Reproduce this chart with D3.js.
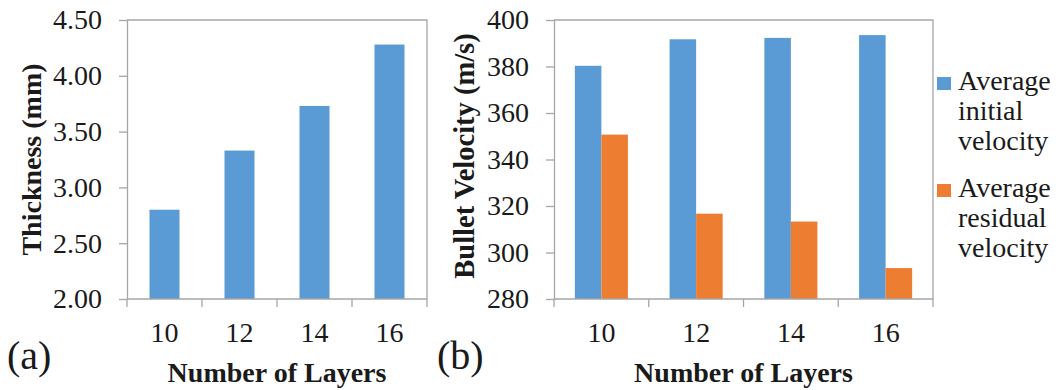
<!DOCTYPE html>
<html>
<head>
<meta charset="utf-8">
<script src="https://cdn.jsdelivr.net/npm/d3@7"></script>
<style>
  html, body { margin: 0; padding: 0; background: #fff; }
  svg { display: block; }
</style>
</head>
<body>
<svg id="chart" width="1059" height="390"></svg>
<script>
// Layer counts shared by both panels
const layers = ["10", "12", "14", "16"];

// Panel (a): laminate thickness in mm
const thickness = [2.80, 3.33, 3.73, 4.28];
const thicknessTicks = [2.00, 2.50, 3.00, 3.50, 4.00, 4.50];

// Panel (b): bullet velocities in m/s
const seriesNames = ["Average initial velocity", "Average residual velocity"];
const initialVelocity = [380.3, 391.7, 392.3, 393.5];
const residualVelocity = [350.7, 316.7, 313.3, 293.3];
const velocityTicks = [280, 300, 320, 340, 360, 380, 400];

// Legend lines (each entry wraps over three lines)
const legendLines = [["Average", "initial", "velocity"], ["Average", "residual", "velocity"]];

const colors = ["#5b9bd5", "#ed7d31"];
const axisColor = "#a6a6a6";
const textColor = "#1a1a1a";
const FONT = '"Liberation Serif", "Times New Roman", serif';

const svg = d3.select("#chart");

function label(sel, size, bold) {
  return sel.style("font-family", FONT)
    .style("font-size", size + "px")
    .style("font-weight", bold ? "bold" : "normal")
    .style("fill", textColor);
}

function styleAxis(g) {
  g.attr("font-family", null).attr("font-size", null);
  g.select(".domain").attr("stroke", axisColor).attr("stroke-width", 1.3);
  g.selectAll(".tick line").attr("stroke", axisColor).attr("stroke-width", 1.3);
  label(g.selectAll(".tick text"), 28, false);
}

function drawFrame(x, y, left, right, top, bottom, yTicks, yFmt, yTitle, panelLabel) {
  // plot outline (top and right edges)
  svg.append("path")
    .attr("d", `M${left},${top}H${right}V${bottom}`)
    .attr("fill", "none").attr("stroke", axisColor).attr("stroke-width", 1.3);

  // y axis
  const gy = svg.append("g").attr("transform", `translate(${left},0)`)
    .call(d3.axisLeft(y).tickValues(yTicks).tickFormat(yFmt).tickSize(8).tickSizeOuter(0).tickPadding(17));
  styleAxis(gy);

  // x axis: baseline with tick marks at category boundaries
  const step = x.step();
  const gx = svg.append("g");
  gx.append("line").attr("x1", left).attr("x2", right).attr("y1", bottom).attr("y2", bottom)
    .attr("stroke", axisColor).attr("stroke-width", 1.3);
  gx.selectAll("line.tk").data(d3.range(layers.length + 1)).join("line")
    .attr("class", "tk")
    .attr("x1", i => left + i * step).attr("x2", i => left + i * step)
    .attr("y1", bottom).attr("y2", bottom + 8)
    .attr("stroke", axisColor).attr("stroke-width", 1.3);
  label(gx.selectAll("text").data(layers).join("text"), 28, false)
    .attr("x", d => x(d) + x.bandwidth() / 2)
    .attr("y", 342)
    .attr("text-anchor", "middle")
    .text(d => d);

  // axis titles
  label(svg.append("text"), 28, true)
    .attr("x", (left + right) / 2).attr("y", 382)
    .attr("text-anchor", "middle")
    .text("Number of Layers");

  label(svg.append("text"), yTitle.size, true)
    .attr("transform", `translate(${yTitle.x},${yTitle.y}) rotate(-90)`)
    .attr("text-anchor", "middle")
    .text(yTitle.text);

  label(svg.append("text"), 40, false)
    .attr("x", panelLabel.x).attr("y", 369)
    .text(panelLabel.text);
}

// ---------- Panel (a) ----------
{
  const left = 127, right = 427, top = 20, bottom = 299;
  const x = d3.scaleBand().domain(layers).range([left, right]).paddingInner(0.6).paddingOuter(0.3);
  const y = d3.scaleLinear().domain([2.0, 4.5]).range([bottom, top]);

  svg.append("g").selectAll("rect").data(layers).join("rect")
    .attr("x", d => x(d))
    .attr("width", x.bandwidth())
    .attr("y", (d, i) => y(thickness[i]))
    .attr("height", (d, i) => y(2.0) - y(thickness[i]))
    .attr("fill", colors[0]);

  drawFrame(x, y, left, right, top, bottom, thicknessTicks, d3.format(".2f"),
    { x: 41, y: 159.5, size: 28, text: "Thickness (mm)" }, { x: 7, text: "(a)" });
}

// ---------- Panel (b) ----------
{
  const left = 554, right = 933, top = 20, bottom = 299;
  const x = d3.scaleBand().domain(layers).range([left, right]).paddingInner(0.44).paddingOuter(0.22);
  const xs = d3.scaleBand().domain(seriesNames).range([0, x.bandwidth()]);
  const y = d3.scaleLinear().domain([280, 400]).range([bottom, top]);
  const values = [initialVelocity, residualVelocity];

  const groups = svg.append("g").selectAll("g").data(layers).join("g")
    .attr("transform", d => `translate(${x(d)},0)`);
  groups.selectAll("rect")
    .data((d, i) => seriesNames.map((s, k) => ({ s, k, v: values[k][i] })))
    .join("rect")
    .attr("x", d => xs(d.s))
    .attr("width", xs.bandwidth())
    .attr("y", d => y(d.v))
    .attr("height", d => y(280) - y(d.v))
    .attr("fill", d => colors[d.k]);

  drawFrame(x, y, left, right, top, bottom, velocityTicks, d3.format("d"),
    { x: 474, y: 156, size: 28.5, text: "Bullet Velocity (m/s)" }, { x: 437, text: "(b)" });

  // legend
  const legend = svg.append("g");
  const entryY = [90, 197];
  legendLines.forEach((lines, k) => {
    legend.append("rect")
      .attr("x", 937).attr("y", entryY[k] - 13)
      .attr("width", 14).attr("height", 13)
      .attr("fill", colors[k]);
    lines.forEach((t, j) => {
      label(legend.append("text"), 28, false)
        .attr("x", 958).attr("y", entryY[k] + j * 30)
        .text(t);
    });
  });
}
</script>
</body>
</html>
